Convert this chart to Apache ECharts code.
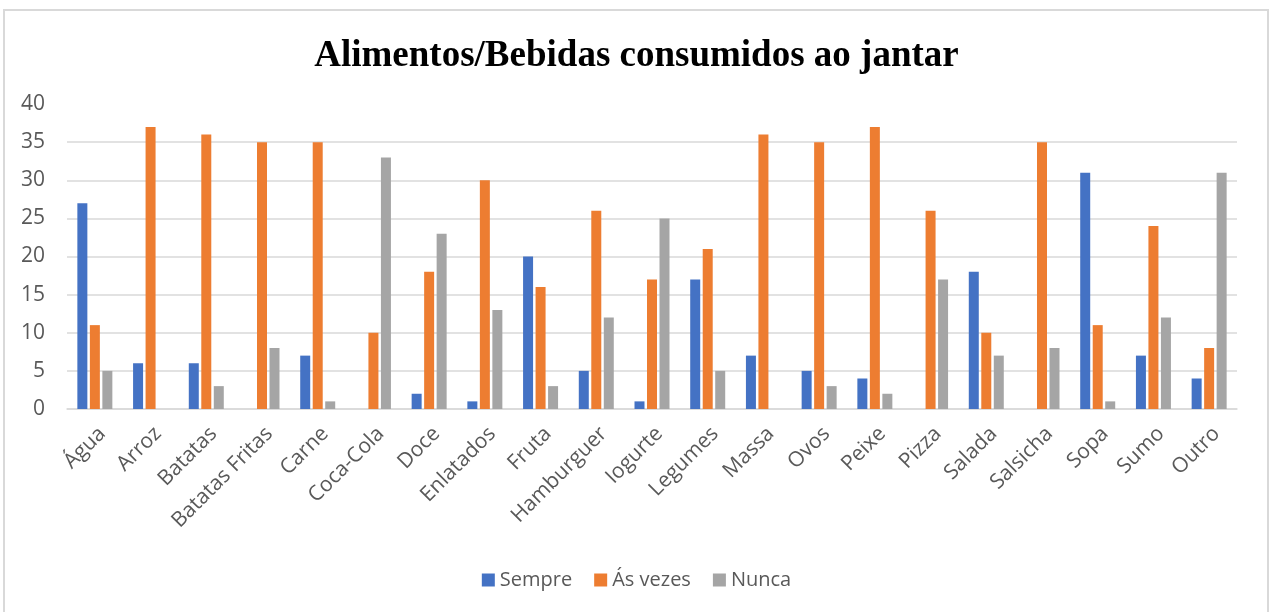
<!DOCTYPE html>
<html>
<head>
<meta charset="utf-8">
<script src="https://cdn.jsdelivr.net/npm/echarts@6/dist/echarts.min.js"></script>
<style>
  html, body { margin: 0; padding: 0; background: #fff; }
  #chart { width: 1273px; height: 612px; }
</style>
</head>
<body>
<div id="chart"></div>
<script>
// Categories (x axis)
const categories = ['Água', 'Arroz', 'Batatas', 'Batatas Fritas', 'Carne', 'Coca-Cola', 'Doce',
  'Enlatados', 'Fruta', 'Hamburguer', 'Iogurte', 'Legumes', 'Massa', 'Ovos', 'Peixe', 'Pizza',
  'Salada', 'Salsicha', 'Sopa', 'Sumo', 'Outro'];

// Series values
const sempre  = [27, 6, 6, 0, 7, 0, 2, 1, 20, 5, 1, 17, 7, 5, 4, 0, 18, 0, 31, 7, 4];
const asVezes = [11, 37, 36, 35, 35, 10, 18, 30, 16, 26, 17, 21, 36, 35, 37, 26, 10, 35, 11, 24, 8];
const nunca   = [5, 0, 3, 8, 1, 33, 23, 13, 3, 12, 25, 5, 0, 3, 2, 17, 7, 8, 1, 12, 31];

// Y axis ticks
const yTicks = [0, 5, 10, 15, 20, 25, 30, 35, 40];

const seriesNames = ['Sempre', 'Ás vezes', 'Nunca'];
const seriesColors = ['#4472C4', '#ED7D31', '#A5A5A5'];
const seriesData = [sempre, asVezes, nunca];

const font = '"Open Sans", sans-serif';
const chart = echarts.init(document.getElementById('chart'), null, { renderer: 'canvas' });

// gridlines: every tick line except the top one
const gridColors = yTicks.map((t, i) => i === yTicks.length - 1 ? 'rgba(0,0,0,0)' : '#D9D9D9');

chart.setOption({
  backgroundColor: '#ffffff',
  animation: false,
  title: {
    text: 'Alimentos/Bebidas consumidos ao jantar',
    left: 'center',
    top: 33,
    textStyle: {
      fontFamily: '"Liberation Serif", "Times New Roman", serif',
      fontWeight: 'bold',
      fontSize: 37,
      color: '#000000'
    }
  },
  graphic: [{
    type: 'rect',
    shape: { x: 4, y: 10, width: 1264, height: 610 },
    style: { fill: 'none', stroke: '#D9D9D9', lineWidth: 2 },
    silent: true,
    z: -1
  }],
  legend: {
    data: seriesNames,
    bottom: 17,
    left: 'center',
    icon: 'rect',
    itemWidth: 13,
    itemHeight: 13,
    itemGap: 22,
    textStyle: { fontFamily: font, fontSize: 20, color: '#595959' }
  },
  grid: {
    left: 67,
    right: 36,
    top: 104,
    bottom: 203,
    containLabel: false
  },
  xAxis: {
    type: 'category',
    data: categories,
    axisLine: { show: true, lineStyle: { color: '#D9D9D9', width: 1.5 } },
    axisTick: { show: false },
    axisLabel: {
      interval: 0,
      rotate: 45,
      margin: 14,
      verticalAlign: 'top',
      fontFamily: font,
      fontSize: 21,
      color: '#595959'
    }
  },
  yAxis: {
    type: 'value',
    min: 0,
    max: 40,
    interval: 5,
    axisLine: { show: false },
    axisTick: { show: false },
    splitLine: { show: true, lineStyle: { color: gridColors, width: 1.5 } },
    axisLabel: {
      margin: 22,
      fontFamily: font,
      fontSize: 21,
      color: '#595959'
    }
  },
  series: seriesData.map((d, i) => ({
    name: seriesNames[i],
    type: 'bar',
    data: d,
    barWidth: 10,
    barGap: '25%',
    itemStyle: { color: seriesColors[i] }
  }))
});
</script>
</body>
</html>
